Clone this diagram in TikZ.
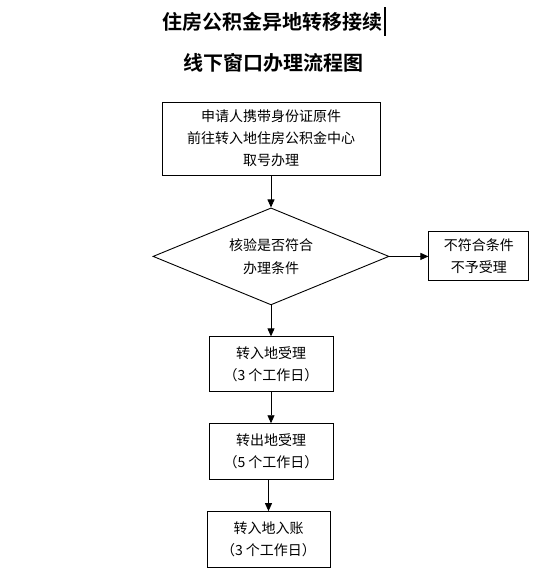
\documentclass[tikz,border=0pt]{standalone}
\usepackage{fontspec}
\usepackage{xcolor}
\usepackage{tikz}
\usetikzlibrary{arrows.meta,shapes.geometric,positioning}
\newfontfamily\cjk{Noto Sans CJK SC}[BoldFont={Noto Sans CJK SC Bold}]
\definecolor{flowline}{RGB}{0,0,0}
\tikzset{
  stepbox/.style={draw=flowline, line width=0.9pt, align=center,
                  minimum width=#1, inner sep=2pt,
                  font=\cjk\fontsize{14}{22}\selectfont},
  stepbox/.default=124pt,
  checknode/.style={draw=flowline, line width=0.9pt, diamond, aspect=2.43,
                    align=center, minimum width=236pt, minimum height=97pt,
                    inner sep=0pt, font=\cjk\fontsize{14}{23}\selectfont},
  titlenode/.style={font=\cjk\bfseries\fontsize{20}{24}\selectfont, inner sep=0pt},
  farr/.style={-{Triangle[length=8pt,width=7pt]}, line width=0.9pt, flowline},
}
\begin{document}
\begin{tikzpicture}[x=1pt, y=-1pt]
  \useasboundingbox (0,0) rectangle (550,584);
  %% title
  \node[titlenode] (title) at (272,22) {住房公积金异地转移接续};
  \node[titlenode] (subtitle) at (273,63) {线下窗口办理流程图};
  \draw[line width=2pt] (385,7) -- (385,36);

  %% main flow
  \node[stepbox=218pt, minimum height=73pt] (apply) at (271,138.5)
        {申请人携带身份证原件\\前往转入地住房公积金中心\\取号办理};
  \node[checknode, below=32pt of apply] (check)
        {核验是否符合\\办理条件};
  \node[stepbox=100pt, minimum height=49pt, right=39pt of check] (reject)
        {不符合条件\\不予受理};
  \node[stepbox, minimum height=55pt, below=31pt of check] (accept)
        {转入地受理\\（3 个工作日）};
  \node[stepbox, minimum height=56pt, below=31pt of accept] (transout)
        {转出地受理\\（5 个工作日）};
  \node[stepbox=123pt, minimum height=56pt, below=31pt of transout, xshift=-2.5pt] (account)
        {转入地入账\\（3 个工作日）};

  \draw[farr] (apply)    -- (check);
  \draw[farr] (check)    -- (reject);
  \draw[farr] (check)    -- (accept);
  \draw[farr] (accept)   -- (transout);
  \draw[farr] (transout.south -| account.north) -- (account);
\end{tikzpicture}
\end{document}
